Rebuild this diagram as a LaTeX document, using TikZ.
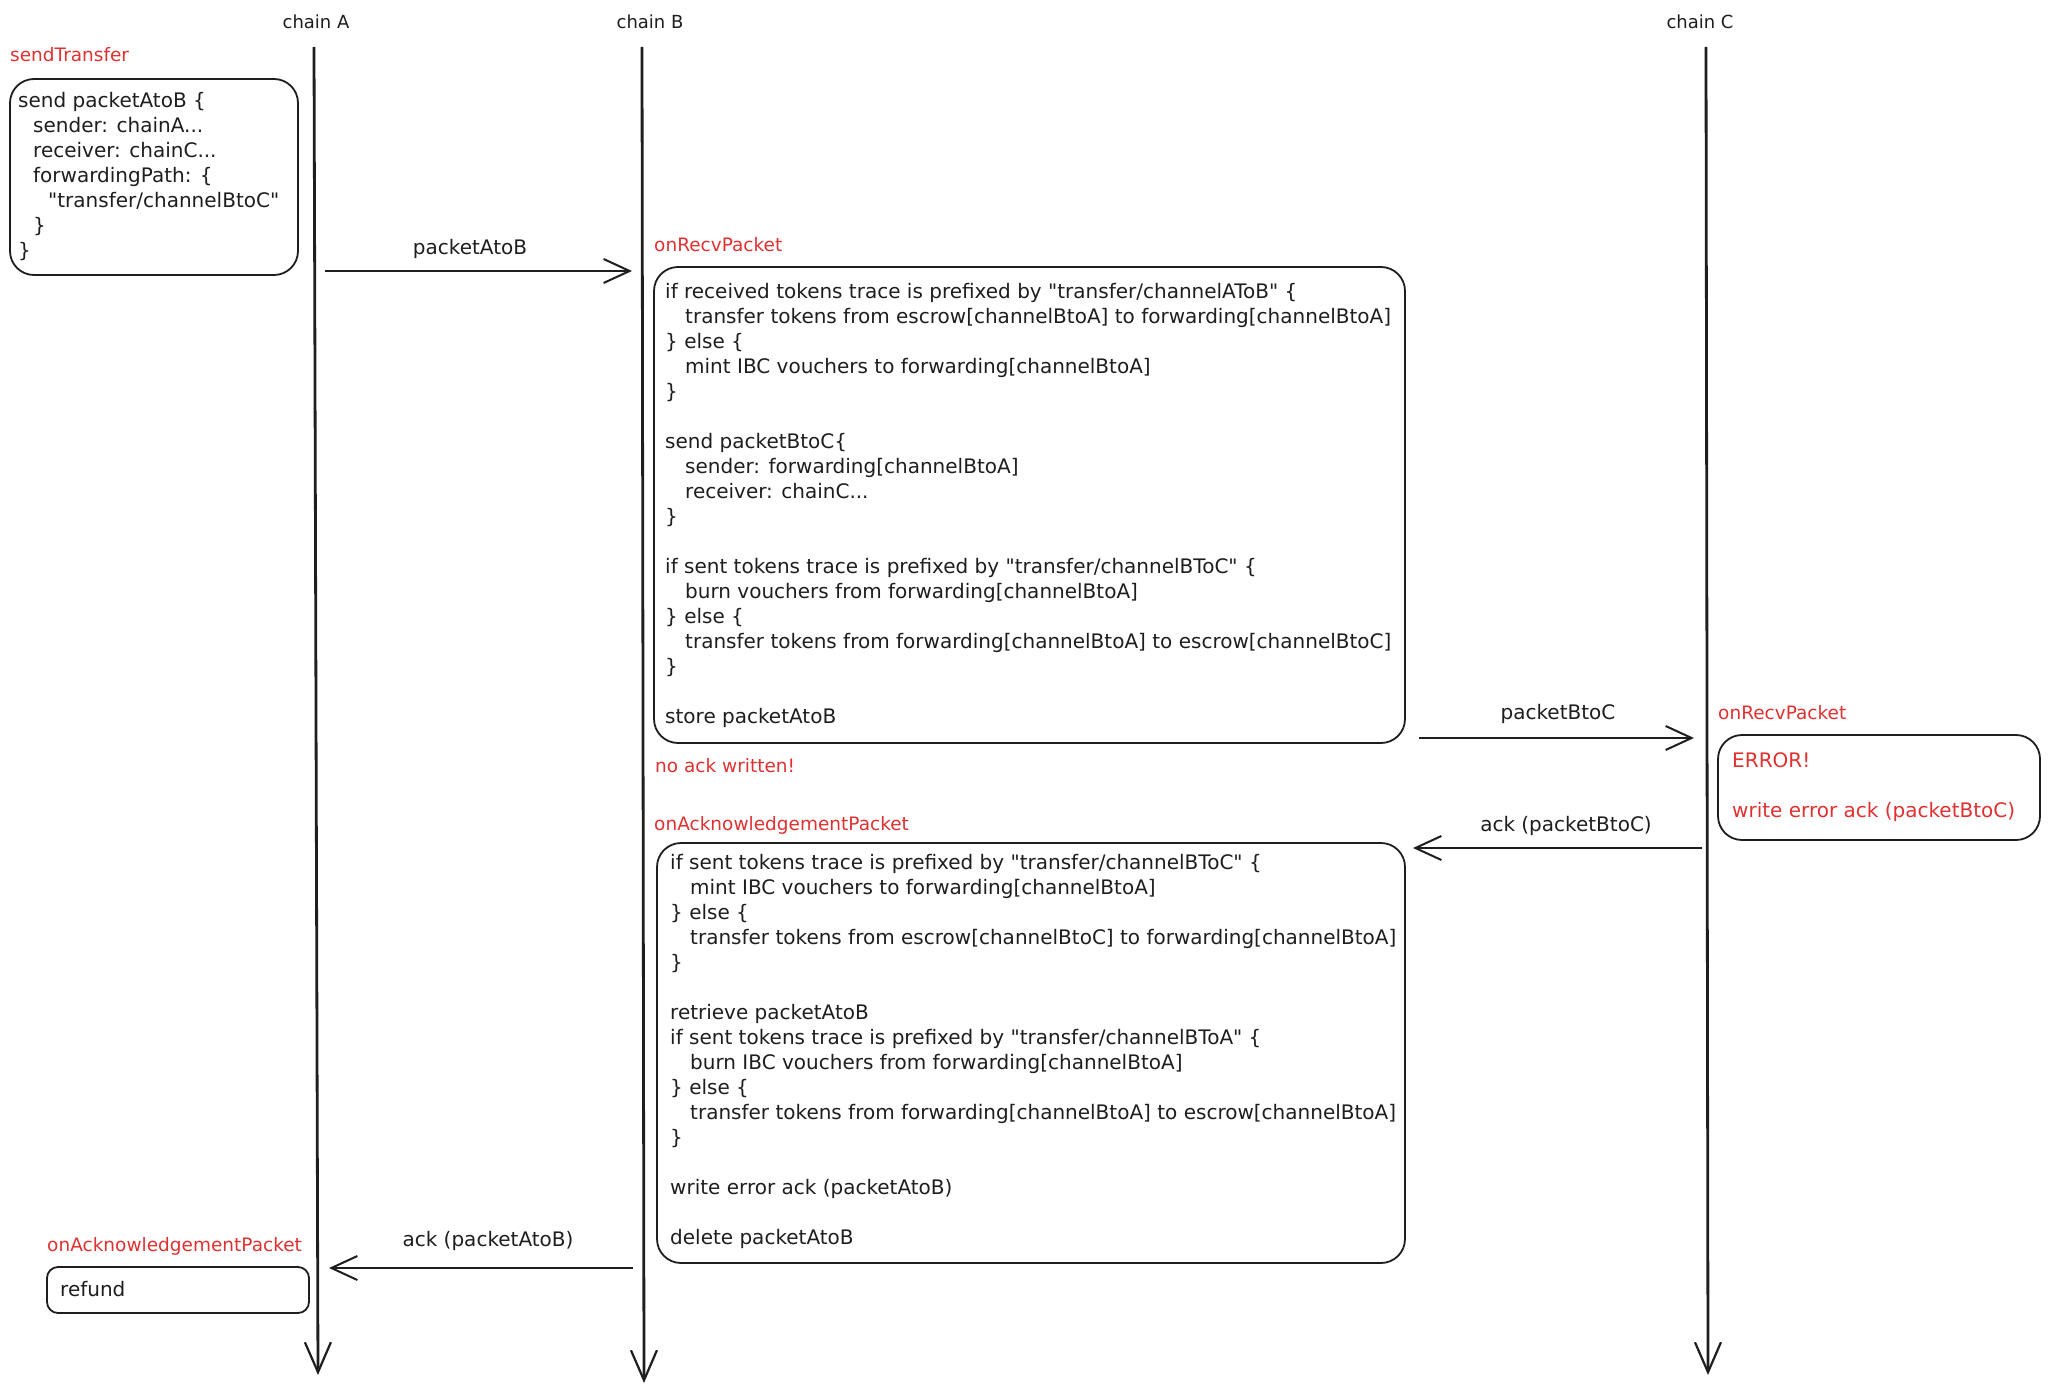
\documentclass[tikz,border=0pt]{standalone}
\usepackage{fontspec}
\setmainfont{DejaVu Sans}[Ligatures=TeXOff]
\usepackage{tikz}
\usepackage{xcolor}
\usetikzlibrary{arrows.meta}
\usetikzlibrary{positioning}

\definecolor{ink}{HTML}{1E1E1E}
\definecolor{exred}{HTML}{E03131}
\newcommand{\ind}{\hspace*{20pt}}
\newcommand{\sind}{\hspace*{15pt}}

\begin{document}
\begin{tikzpicture}[x=1pt,y=-1pt,
  every node/.style={inner sep=0pt},
  lifeline/.style={draw=ink,line width=2.8pt,-{Straight Barb[length=30pt,width=26pt,line width=2.2pt]}},
  msg/.style={draw=ink,line width=2.2pt,-{Straight Barb[length=26pt,width=24pt,line width=2pt]}},
  codebox/.style={draw=ink,line width=1.8pt,rounded corners=24pt},
  code/.style={anchor=north west,align=left,text=ink,font=\fontsize{20}{25}\selectfont},
  redcode/.style={code,text=exred},
  title/.style={anchor=west,text=exred,font=\fontsize{18.5}{22}\selectfont},
  chainlabel/.style={text=ink,font=\fontsize{18}{22}\selectfont},
  msglabel/.style={text=ink,font=\fontsize{20}{25}\selectfont}]
\useasboundingbox (0,0) rectangle (2048,1394);

% chains
\node[chainlabel] (chainA) at (316,22) {chain A};
\node[chainlabel] (chainB) at (650,22) {chain B};
\node[chainlabel] (chainC) at (1700,22) {chain C};
\coordinate (Atop) at (314,47);
\coordinate (Abot) at (318,1375);
\coordinate (Btop) at (642,47);
\coordinate (Bbot) at (644,1383);
\coordinate (Ctop) at (1706,47);
\coordinate (Cbot) at (1708,1375);
\draw[lifeline] (Atop) -- (Abot);
\draw[lifeline] (Btop) -- (Bbot);
\draw[lifeline] (Ctop) -- (Cbot);

% sendTransfer on chain A
\node[title] (sendTitle) at (10,55) {sendTransfer};
\draw[codebox] (10,79) rectangle (298,275);
\node[code] (sendCode) at (18,92) {send packetAtoB \{\\
\sind sender: chainA...\\
\sind receiver: chainC...\\
\sind forwardingPath: \{\\
\sind\sind "transfer/channelBtoC"\\
\sind \}\\
\}};

% packetAtoB
\coordinate (AtoBfrom) at (325,271);
\coordinate (AtoBto) at (632,271);
\draw[msg] (AtoBfrom) -- (AtoBto);
\node[msglabel] (AtoBlabel) at (470,249) {packetAtoB};

% onRecvPacket on chain B
\node[title] (recvBTitle) at (654,245) {onRecvPacket};
\draw[codebox] (654,267) rectangle (1405,743);
\node[code] (recvBCode) at (665,283) {if received tokens trace is prefixed by "transfer/channelAToB" \{\\
\ind transfer tokens from escrow[channelBtoA] to forwarding[channelBtoA]\\
\} else \{\\
\ind mint IBC vouchers to forwarding[channelBtoA]\\
\}\\[25pt]
send packetBtoC\{\\
\ind sender: forwarding[channelBtoA]\\
\ind receiver: chainC...\\
\}\\[25pt]
if sent tokens trace is prefixed by "transfer/channelBToC" \{\\
\ind burn vouchers from forwarding[channelBtoA]\\
\} else \{\\
\ind transfer tokens from forwarding[channelBtoA] to escrow[channelBtoC]\\
\}\\[25pt]
store packetAtoB};
\node[title] (noAck) at (655,766) {no ack written!};

% packetBtoC
\coordinate (BtoCfrom) at (1419,738);
\coordinate (BtoCto) at (1694,738);
\draw[msg] (BtoCfrom) -- (BtoCto);
\node[msglabel] (BtoClabel) at (1558,714) {packetBtoC};

% onRecvPacket on chain C
\node[title] (recvCTitle) at (1718,713) {onRecvPacket};
\draw[codebox] (1718,735) rectangle (2040,840);
\node[redcode] (recvCCode) at (1732,752) {ERROR!\\[25pt]
write error ack (packetBtoC)};

% ack (packetBtoC)
\coordinate (ackCfrom) at (1702,848);
\coordinate (ackCto) at (1413,848);
\draw[msg] (ackCfrom) -- (ackCto);
\node[msglabel] (ackClabel) at (1566,826) {ack (packetBtoC)};

% onAcknowledgementPacket on chain B
\node[title] (ackBTitle) at (654,825) {onAcknowledgementPacket};
\draw[codebox] (657,843) rectangle (1405,1263);
\node[code] (ackBCode) at (670,854) {if sent tokens trace is prefixed by "transfer/channelBToC" \{\\
\ind mint IBC vouchers to forwarding[channelBtoA]\\
\} else \{\\
\ind transfer tokens from escrow[channelBtoC] to forwarding[channelBtoA]\\
\}\\[25pt]
retrieve packetAtoB\\
if sent tokens trace is prefixed by "transfer/channelBToA" \{\\
\ind burn IBC vouchers from forwarding[channelBtoA]\\
\} else \{\\
\ind transfer tokens from forwarding[channelBtoA] to escrow[channelBtoA]\\
\}\\[25pt]
write error ack (packetAtoB)\\[25pt]
delete packetAtoB};

% ack (packetAtoB)
\coordinate (ackBfrom) at (633,1268);
\coordinate (ackBto) at (329,1268);
\draw[msg] (ackBfrom) -- (ackBto);
\node[msglabel] (ackBlabel) at (488,1241) {ack (packetAtoB)};

% onAcknowledgementPacket on chain A
\node[title] (ackATitle) at (47,1246) {onAcknowledgementPacket};
\draw[codebox,rounded corners=11pt] (47,1267) rectangle (309,1313);
\node[code] (ackACode) at (60,1281) {refund};

\end{tikzpicture}
\end{document}
